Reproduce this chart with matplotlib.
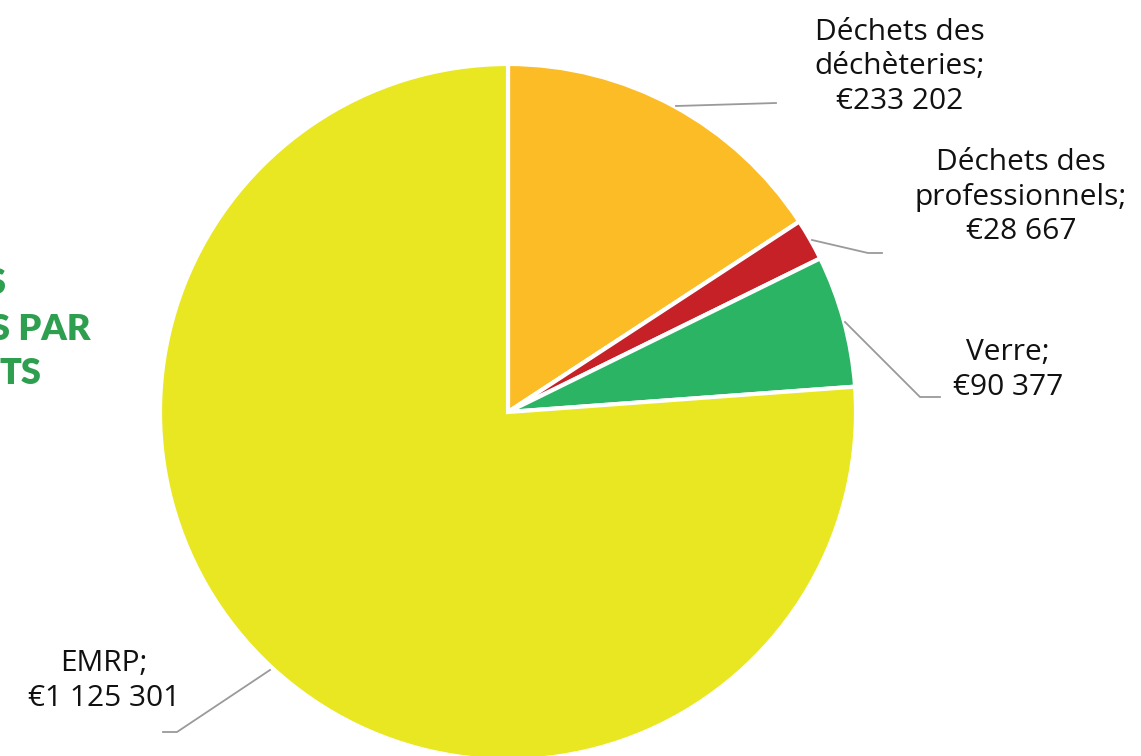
import matplotlib.pyplot as plt

# data
labels = ['Déchets des\ndéchèteries;\n€233 202', 'Déchets des\nprofessionnels;\n€28 667',
          'Verre;\n€90 377', 'EMRP;\n€1 125 301']
values = [233202, 28667, 90377, 1125301]
colors = ['#FBBC26', '#C52127', '#2BB463', '#E9E721']

W, H = 1141, 756
fig = plt.figure(figsize=(W / 100, H / 100), dpi=100)
ax = fig.add_axes([0, 0, 1, 1])

cx, cy, r = 508, H - 412, 348
ax.pie(values, colors=colors, startangle=90, counterclock=False,
       center=(cx, cy), radius=r, frame=True,
       wedgeprops=dict(edgecolor='white', linewidth=3))
ax.set_xlim(0, W)
ax.set_ylim(0, H)
ax.set_aspect('equal')
ax.axis('off')

font = 'Open Sans'
fs = 21.5
line_col = '#9a9a9a'

# leader lines (pixel coords from the top)
leaders = [
    [(676, 106), (776, 103)],
    [(812, 240), (868, 253), (882, 253)],
    [(845, 322), (920, 397), (940, 397)],
    [(270, 670), (177, 732), (163, 732)],
]
for pts in leaders:
    ax.plot([p[0] for p in pts], [H - p[1] for p in pts], color=line_col, lw=1.3)

label_pos = [(900, 67), (1021, 197), (1008, 370), (104, 681)]
for lab, (x, y) in zip(labels, label_pos):
    ax.text(x, H - y, lab, ha='center', va='center', fontsize=fs,
            family=font, color='#111111', linespacing=1.25)

# cut-off title on the left edge
green = '#2E9E4F'
for txt, x, y in [('S', 6, 283), ('S PAR', 91, 330), ('TS', 41, 373)]:
    ax.text(x, H - y, txt, ha='right', va='center', fontsize=26,
            family='Lato', fontweight='heavy', color=green)

fig.savefig('out.png', dpi=100)
